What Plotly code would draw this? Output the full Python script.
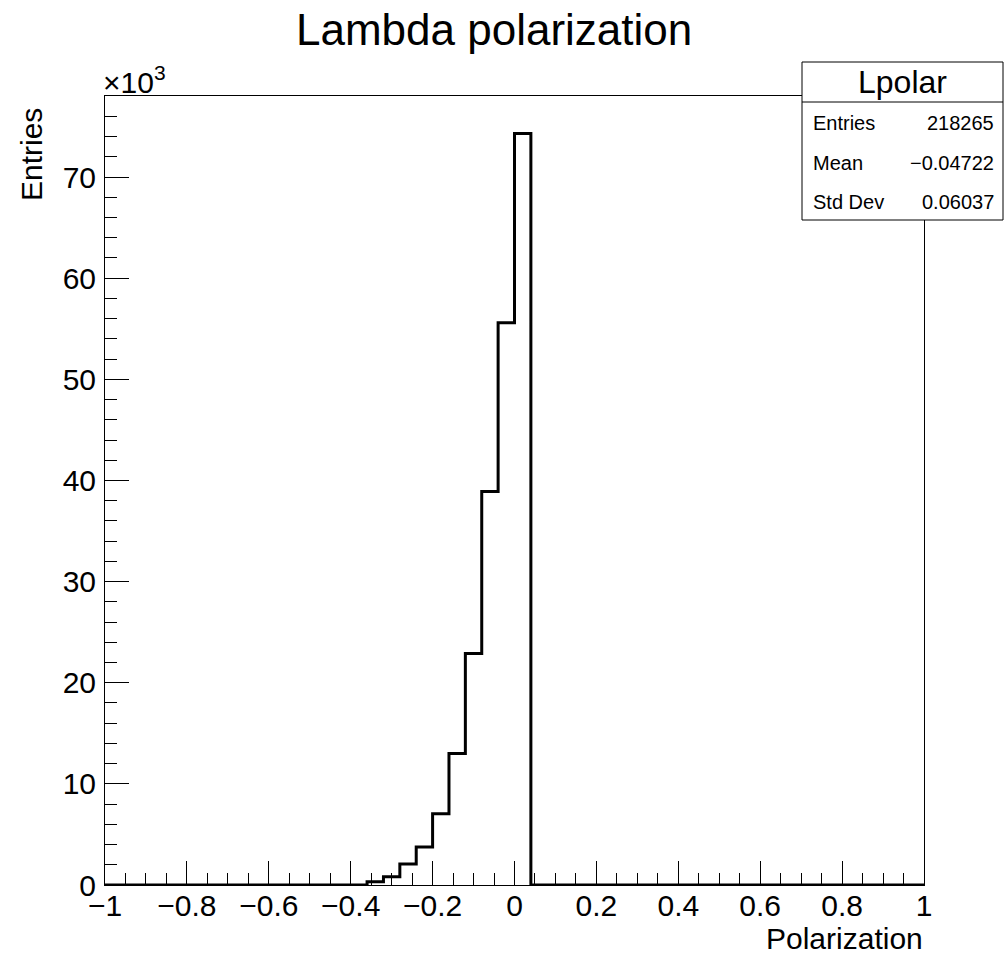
import numpy as np
import plotly.graph_objects as go

# ---------------- data ----------------
x_min, x_max, n_bins = -1.0, 1.0, 50
# bin contents (entries per bin), bins of width 0.04 starting at -1
counts = [0, 0, 0, 0, 0, 0, 0, 0, 0, 0,
          0, 0, 0, 0, 0, 0, 330, 820, 2070, 3750,
          7040, 13000, 22900, 38900, 55600, 74300, 0, 0, 0, 0,
          0, 0, 0, 0, 0, 0, 0, 0, 0, 0,
          0, 0, 0, 0, 0, 0, 0, 0, 0, 0]
y_tick_vals = [0, 10000, 20000, 30000, 40000, 50000, 60000, 70000]
y_tick_text = ["0", "10", "20", "30", "40", "50", "60", "70"]
title_text = "Lambda polarization"
x_title = "Polarization"
y_title = "Entries"
stats_name = "Lpolar"
stats_labels = ["Entries", "Mean", "Std Dev"]
stats_values = ["218265", "\u22120.04722", "0.06037"]

# ---------------- layout geometry ----------------
W, H = 1005, 956
L, R, T, B = 105, 81, 96, 71
PW, PH = W - L - R, H - T - B


def px(X):
    return (X - L) / PW


def py(Y):
    return (H - B - Y) / PH


FONT = "Liberation Sans, Arial, Helvetica, sans-serif"

edges = np.linspace(x_min, x_max, n_bins + 1)
xs = list(edges[:-1]) + [edges[-1]]
ys = list(counts) + [counts[-1]]

fig = go.Figure()
fig.add_trace(go.Scatter(
    x=xs, y=ys, mode="lines", line=dict(color="black", width=3, shape="hv"),
    hoverinfo="skip", showlegend=False))

y_top = max(counts) * 1.05

fig.update_layout(
    width=W, height=H,
    margin=dict(l=L, r=R, t=T, b=B, pad=0),
    paper_bgcolor="white", plot_bgcolor="white",
    font=dict(family=FONT, color="black", size=31),
    showlegend=False,
    xaxis=dict(
        range=[x_min, x_max], tickmode="linear", tick0=-1, dtick=0.2,
        ticks="inside", ticklen=24, tickwidth=1, tickcolor="black",
        minor=dict(dtick=0.05, tick0=-1, ticks="inside", ticklen=12,
                   tickwidth=1, tickcolor="black", showgrid=False),
        showgrid=False, zeroline=False, showline=True, linecolor="black",
        linewidth=1, mirror=True, tickfont=dict(size=30, family=FONT),
        ticklabelstandoff=-6,
    ),
    yaxis=dict(
        range=[0, y_top], tickmode="array", tickvals=y_tick_vals,
        ticktext=y_tick_text,
        ticks="inside", ticklen=24, tickwidth=1, tickcolor="black",
        minor=dict(dtick=2000, tick0=0, ticks="inside", ticklen=12,
                   tickwidth=1, tickcolor="black", showgrid=False),
        showgrid=False, zeroline=False, showline=True, linecolor="black",
        linewidth=1, mirror=True, tickfont=dict(size=30, family=FONT),
        ticklabelstandoff=2,
    ),
)

ann = []
# title
ann.append(dict(text=title_text, x=px(494), y=py(30), xref="paper", yref="paper",
                xanchor="center", yanchor="middle", showarrow=False,
                font=dict(size=44, family=FONT)))
# x title
ann.append(dict(text=x_title, x=px(925), y=py(939), xref="paper", yref="paper",
                xanchor="right", yanchor="middle", showarrow=False,
                font=dict(size=30, family=FONT)))
# y title
ann.append(dict(text=y_title, x=px(31), y=py(155), xref="paper", yref="paper",
                xanchor="center", yanchor="middle", textangle=-90, showarrow=False,
                font=dict(size=30, family=FONT)))
# exponent
ann.append(dict(text="\u00d710<sup>3</sup>", x=px(101), y=py(80), xref="paper", yref="paper",
                xanchor="left", yanchor="middle", showarrow=False,
                font=dict(size=30, family=FONT)))

# stats box
box_l, box_r, box_t, box_h, box_b = 802, 1003, 62, 102, 220
shapes = [
    dict(type="rect", xref="paper", yref="paper", x0=px(box_l), x1=px(box_r),
         y0=py(box_b), y1=py(box_t), fillcolor="white",
         line=dict(color="black", width=1), layer="above"),
    dict(type="line", xref="paper", yref="paper", x0=px(box_l), x1=px(box_r),
         y0=py(box_h), y1=py(box_h), line=dict(color="black", width=1), layer="above"),
]
ann.append(dict(text=stats_name, x=px((box_l + box_r) / 2), y=py((box_t + box_h) / 2),
                xref="paper", yref="paper", xanchor="center", yanchor="middle",
                showarrow=False, font=dict(size=32, family=FONT)))
row_y = [123, 163, 202]
for lab, val, yy in zip(stats_labels, stats_values, row_y):
    ann.append(dict(text=lab, x=px(811), y=py(yy), xref="paper", yref="paper",
                    xanchor="left", yanchor="middle", showarrow=False,
                    font=dict(size=20, family=FONT)))
    ann.append(dict(text=val, x=px(996), y=py(yy), xref="paper", yref="paper",
                    xanchor="right", yanchor="middle", showarrow=False,
                    font=dict(size=20, family=FONT)))

fig.update_layout(annotations=ann, shapes=shapes)
fig.write_html("out.html")
